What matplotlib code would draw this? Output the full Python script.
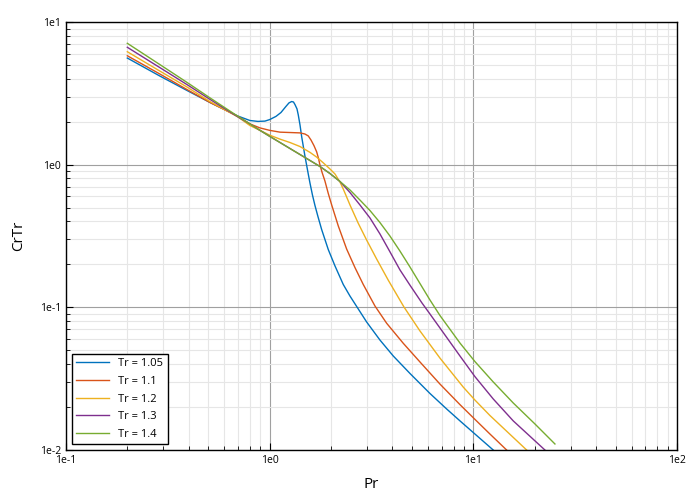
import math
import matplotlib
matplotlib.use("Agg")
import matplotlib.pyplot as plt
from matplotlib.ticker import LogLocator, FuncFormatter, NullFormatter

plt.rcParams['font.family'] = ['Open Sans', 'DejaVu Sans']

labels = ["Tr = 1.05", "Tr = 1.1", "Tr = 1.2", "Tr = 1.3", "Tr = 1.4"]
colors = ["#0072BD", "#D95319", "#EDB120", "#7E2F8E", "#77AC30"]

pr_105 = [0.2, 0.289, 0.393, 0.509, 0.699, 0.80, 0.876, 0.948, 1.0, 1.074, 1.136, 1.202, 1.244,
          1.282, 1.309, 1.331, 1.362, 1.382, 1.409, 1.436, 1.490, 1.547, 1.577, 1.622, 1.669,
          1.726, 1.80, 1.94, 2.093, 2.298, 2.479, 2.674, 2.994, 3.479, 4.044, 4.885, 6.124,
          7.393, 8.597, 10.18, 12.52]
cr_105 = [5.59, 4.18, 3.31, 2.73, 2.19, 2.04, 2.01, 2.02, 2.07, 2.18, 2.32, 2.56, 2.71,
          2.77, 2.75, 2.64, 2.46, 2.23, 1.90, 1.57, 1.15, 0.860, 0.744, 0.613, 0.517,
          0.433, 0.351, 0.254, 0.195, 0.1446, 0.120, 0.1014, 0.0789, 0.0590, 0.0456, 0.0344, 0.0249,
          0.0194, 0.0160, 0.01295, 0.0100]

pr_11 = [0.2, 0.289, 0.393, 0.509, 0.699, 0.80, 0.896, 1.0, 1.124, 1.258, 1.409, 1.490, 1.547,
         1.595, 1.650, 1.701, 1.736, 1.766, 1.806, 1.868, 1.94, 2.016, 2.172, 2.388, 2.623, 2.881,
         3.288, 3.754, 4.527, 5.470, 6.855, 8.597, 10.18, 12.06, 14.57]
cr_11 = [5.80, 4.32, 3.36, 2.73, 2.18, 1.93, 1.81, 1.74, 1.69, 1.68, 1.67, 1.64, 1.59,
         1.49, 1.36, 1.23, 1.11, 0.995, 0.888, 0.768, 0.628, 0.522, 0.372, 0.256, 0.190, 0.1446,
         0.1022, 0.0773, 0.0560, 0.0414, 0.0290, 0.0208, 0.0164, 0.01295, 0.0100]

pr_12 = [0.2, 0.289, 0.393, 0.509, 0.699, 0.80, 0.896, 1.0, 1.124, 1.258, 1.409, 1.577, 1.701,
         1.833, 1.977, 2.093, 2.214, 2.298, 2.388, 2.479, 2.723, 2.994, 3.352, 3.822, 4.563,
         5.470, 6.855, 8.923, 10.18, 12.06, 18.27]
cr_12 = [6.19, 4.53, 3.50, 2.77, 2.16, 1.88, 1.74, 1.61, 1.51, 1.43, 1.34, 1.22, 1.13,
         1.03, 0.933, 0.860, 0.756, 0.675, 0.593, 0.522, 0.388, 0.296, 0.218, 0.155, 0.1006,
         0.0683, 0.0441, 0.0276, 0.0224, 0.01746, 0.0100]

pr_13 = [0.2, 0.289, 0.393, 0.509, 0.699, 0.80, 0.896, 1.0, 1.124, 1.258, 1.409, 1.577, 1.766,
         1.977, 2.214, 2.479, 2.775, 3.108, 3.479, 3.896, 4.362, 4.885, 5.595, 6.124, 6.855,
         8.597, 10.18, 12.52, 15.70, 22.46]
cr_13 = [6.65, 4.79, 3.64, 2.87, 2.16, 1.93, 1.74, 1.58, 1.430, 1.298, 1.178, 1.070, 0.971,
         0.867, 0.762, 0.638, 0.522, 0.423, 0.327, 0.245, 0.183, 0.143, 0.1073, 0.0898, 0.0717,
         0.0456, 0.0327, 0.0228, 0.0160, 0.0100]

pr_14 = [0.2, 0.289, 0.393, 0.509, 0.699, 0.80, 0.896, 1.0, 1.124, 1.258, 1.409, 1.577, 1.766,
         1.977, 2.214, 2.479, 2.775, 3.108, 3.479, 3.896, 4.362, 4.885, 5.470, 6.124, 6.855,
         8.597, 10.18, 12.52, 15.70, 20.07, 25.16]
cr_14 = [7.09, 5.03, 3.77, 2.94, 2.18, 1.93, 1.74, 1.58, 1.430, 1.298, 1.178, 1.070, 0.971,
         0.867, 0.762, 0.665, 0.565, 0.477, 0.393, 0.316, 0.248, 0.1918, 0.1469, 0.1126, 0.0877,
         0.0562, 0.0417, 0.0300, 0.02136, 0.01522, 0.01102]

series = [(pr_105, cr_105), (pr_11, cr_11), (pr_12, cr_12), (pr_13, cr_13), (pr_14, cr_14)]

fig = plt.figure(figsize=(7, 5), dpi=100)
ax = fig.add_axes([66/700, 50/500, 611/700, 428/500])

for (x, y), lab, c in zip(series, labels, colors):
    ax.plot(x, y, color=c, lw=1.0, label=lab, solid_joinstyle='round')

ax.set_xscale('log')
ax.set_yscale('log')
ax.set_xlim(0.1, 100)
ax.set_ylim(0.01, 10)

fmt = FuncFormatter(lambda v, p: "1e%d" % round(math.log10(v)))
ax.xaxis.set_major_formatter(fmt)
ax.yaxis.set_major_formatter(fmt)
ax.xaxis.set_minor_locator(LogLocator(base=10, subs=range(2, 10)))
ax.yaxis.set_minor_locator(LogLocator(base=10, subs=range(2, 10)))
ax.xaxis.set_minor_formatter(NullFormatter())
ax.yaxis.set_minor_formatter(NullFormatter())

ax.grid(which='major', color='#a0a0a0', lw=0.8)
ax.grid(which='minor', color='#e6e6e6', lw=0.8)
ax.set_axisbelow(True)
ax.tick_params(which='both', direction='in', top=False, right=False, labelsize=7.5, colors='black')
ax.tick_params(which='major', length=5, width=0.8)
ax.tick_params(which='minor', length=3, width=0.6)
for s in ax.spines.values():
    s.set_linewidth(1.0)

ax.set_xlabel("Pr", fontsize=11, labelpad=8)
ax.set_ylabel("CrTr", fontsize=11, labelpad=10)

leg = ax.legend(loc='lower left', fontsize=8, frameon=True, fancybox=False, edgecolor='black',
                framealpha=1, handlelength=3.0, borderaxespad=0.5, labelspacing=0.6)
leg.get_frame().set_linewidth(1.0)

fig.savefig("out.png", dpi=100)
